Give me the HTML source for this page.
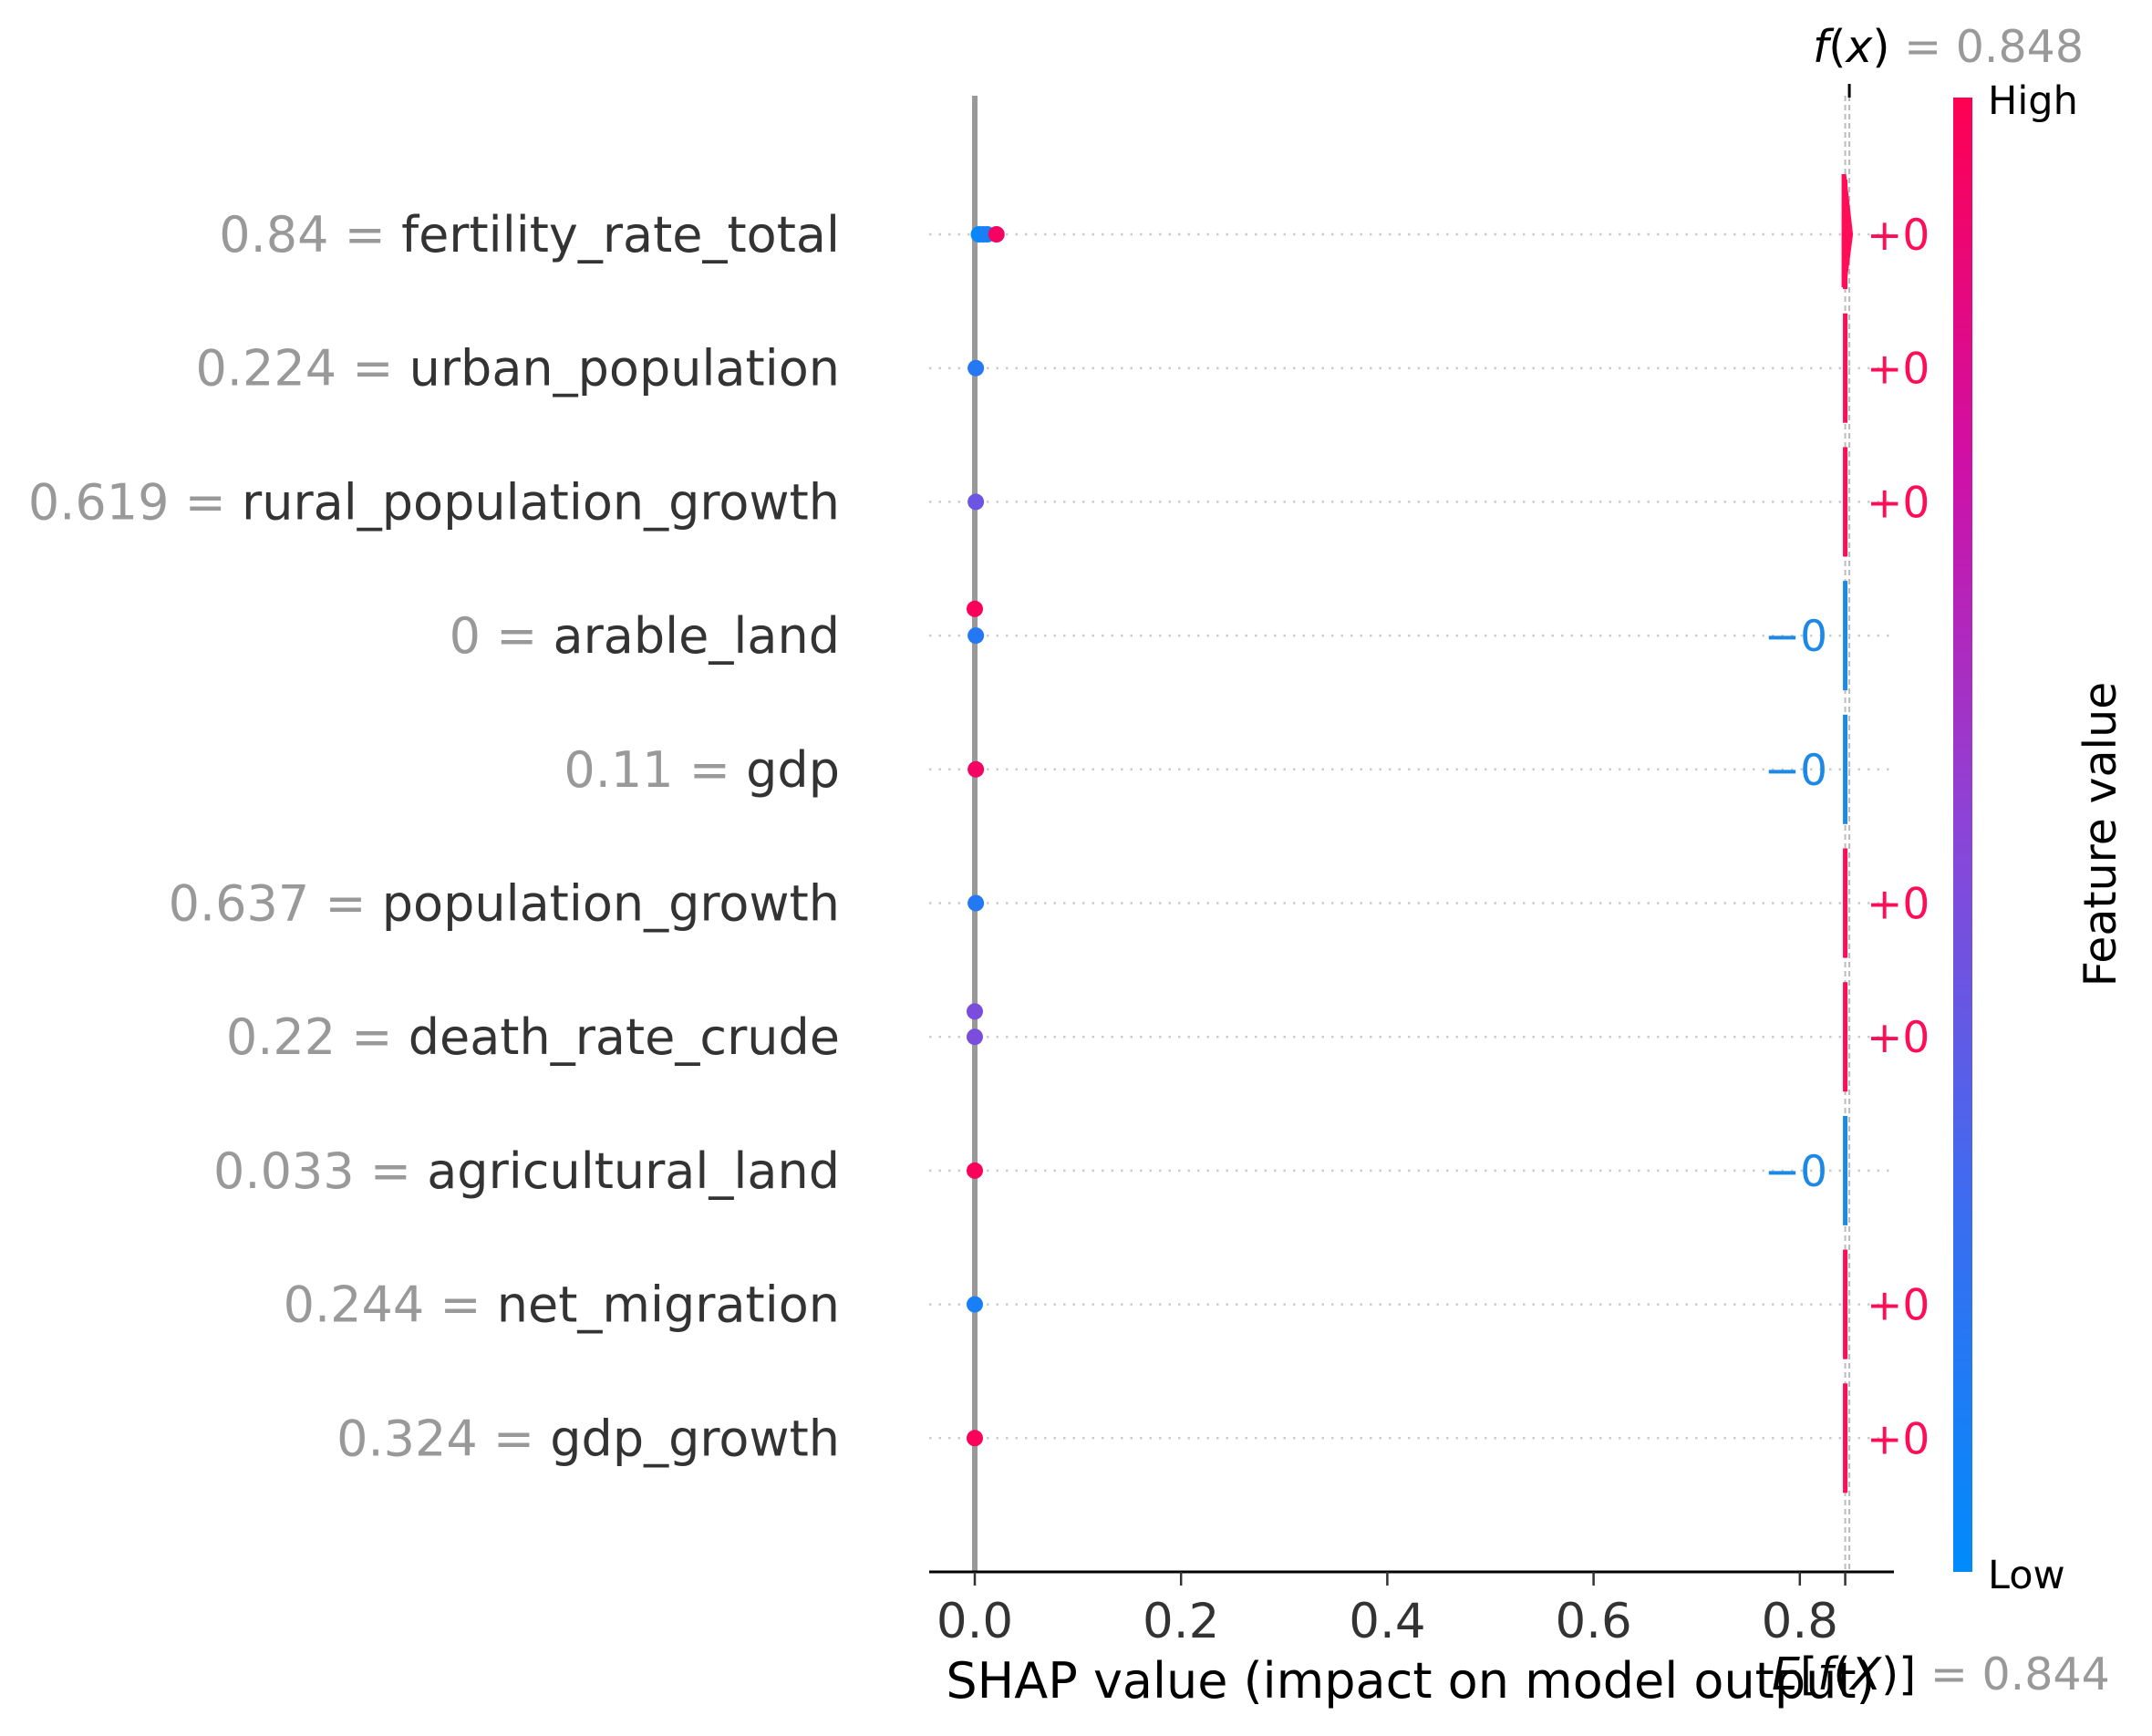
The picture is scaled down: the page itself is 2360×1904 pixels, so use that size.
<!DOCTYPE html>
<html><head><meta charset="utf-8"><style>
html,body{margin:0;padding:0;background:#fff;}
svg{display:block;font-family:"DejaVu Sans","Liberation Sans",sans-serif;}
</style></head><body>
<svg id="chart" width="2360" height="1904" viewBox="0 0 2360 1904" xmlns="http://www.w3.org/2000/svg">
<defs>
<linearGradient id="cmap" x1="0" y1="1" x2="0" y2="0">
<stop offset="0" stop-color="#008bfb"/>
<stop offset="0.25" stop-color="#3d6cf0"/>
<stop offset="0.5" stop-color="#8a45d8"/>
<stop offset="0.75" stop-color="#cf10a6"/>
<stop offset="1" stop-color="#ff0052"/>
</linearGradient>
</defs>
<g id="grid"></g>
<g id="ylabels"></g>
<line x1="1069" y1="105" x2="1069" y2="1724" stroke="#999" stroke-width="6"/>
<g id="dots"></g>
<g id="bars"></g>
<g id="xaxis"></g>
<text x="1547" y="1862" font-size="54" text-anchor="middle" fill="#000">SHAP value (impact on model output)</text>
<rect x="2142" y="107" width="21" height="1617" fill="url(#cmap)"/>
<text x="2180" y="125" font-size="43" fill="#000">High</text>
<text x="2180" y="1742" font-size="43" fill="#000">Low</text>
<text transform="translate(2320,915) rotate(-90)" font-size="49" text-anchor="middle" fill="#000">Feature value</text>
</svg>
<script>
const features = ["fertility_rate_total","urban_population","rural_population_growth","arable_land","gdp","population_growth","death_rate_crude","agricultural_land","net_migration","gdp_growth"];
const featureValues = ["0.84","0.224","0.619","0","0.11","0.637","0.22","0.033","0.244","0.324"];
const contribSigns = ["+0","+0","+0","−0","−0","+0","+0","−0","+0","+0"];
// dot data: row index, shap value, color value (0 low..1 high), vertical jitter offset in row units
const dotRow = [0,0,0,0,1,2,3,3,4,5,6,6,7,8,9];
const dotShap = [0.004,0.008,0.012,0.021,0.001,0.001,0.0,0.001,0.001,0.001,0.0,0.0,0.0,0.0,0.0];
const dotColor = [0.02,0.05,0.1,0.95,0.15,0.4,0.98,0.15,0.95,0.15,0.45,0.45,0.98,0.1,0.98];
const dotJitter = [0,0,0,0,0,0,-0.2,0,0,0,-0.19,0,0,0,0];
const baseValue = 0.844;
const fxValue = 0.848;
const xTicks = [0.0,0.2,0.4,0.6,0.8];
const xTickLabels = ["0.0","0.2","0.4","0.6","0.8"];

const NS = "http://www.w3.org/2000/svg";
const x = v => 1069 + v * 1131;
const y = i => 257 + i * 146.7;
function mk(tag, attrs, parent){const e=document.createElementNS(NS,tag);for(const k in attrs)e.setAttribute(k,attrs[k]);parent.appendChild(e);return e;}
function cmap(t){
  const stops=[[0,[0,139,251]],[0.25,[61,108,240]],[0.5,[138,69,216]],[0.75,[207,16,166]],[1,[255,0,82]]];
  for(let i=0;i<stops.length-1;i++){const [a,ca]=stops[i],[b,cb]=stops[i+1];if(t<=b){const f=(t-a)/(b-a);return "rgb("+ca.map((c,j)=>Math.round(c+(cb[j]-c)*f)).join(",")+")";}}
  return "rgb(255,0,82)";
}
const grid=document.getElementById('grid'),yl=document.getElementById('ylabels'),dots=document.getElementById('dots'),bars=document.getElementById('bars'),xa=document.getElementById('xaxis');
// dashed lines for base and f(x)
[baseValue,fxValue].forEach((v,k)=>{
  const l=mk('line',{x1:x(v),x2:x(v),y1:105,y2:1724,stroke:'#bbb','stroke-width':2,'stroke-dasharray':'6,4'},grid);
  
  
});
features.forEach((f,i)=>{
  const g=mk('line',{x1:1019,x2:2074,y1:y(i),y2:y(i),stroke:'#ccc','stroke-width':2.5,'stroke-dasharray':'2.5,8'},grid);
  
  
  const t=mk('text',{x:921,y:y(i)+19,'font-size':54,'text-anchor':'end',fill:'#333'},yl);
  
  
  const s1=mk('tspan',{fill:'#999'},t);s1.textContent=featureValues[i]+" = ";
  const s2=mk('tspan',{},t);s2.textContent=f;
  const pos=contribSigns[i][0]==='+';
  const col=pos?'#ff0d57':'#1e88e5';
  const b=mk('rect',{x:x(baseValue)-2.5,y:y(i)-60,width:5,height:120,fill:col},bars);
  
  
  const lt=mk('text',{x:pos?2047:2004,y:y(i)+17,'font-size':47,'text-anchor':pos?'start':'end',fill:col},bars);
  
  
  lt.textContent=contribSigns[i];
});
// first row arrow wedge
const w=mk('polygon',{points:`${x(baseValue)-4},${y(0)-66} ${x(baseValue)+1},${y(0)-66} ${x(fxValue)+4},${y(0)} ${x(baseValue)+1},${y(0)+58} ${x(baseValue)-4},${y(0)+58}`,fill:'#ff0d57'},bars);


dotRow.forEach((r,k)=>{
  const c=mk('circle',{cx:x(dotShap[k]),cy:y(r)+dotJitter[k]*146.7,r:9,fill:cmap(dotColor[k])},dots);
  
  
});
const ft=mk('line',{x1:x(fxValue),x2:x(fxValue),y1:92,y2:107,stroke:'#000','stroke-width':3},xa);


const fx=mk('text',{x:1988,y:68,'font-size':49,fill:'#000'},xa);


const a1=mk('tspan',{'font-style':'italic'},fx);a1.textContent='f';
const a2=mk('tspan',{},fx);a2.textContent='(';
const a3=mk('tspan',{'font-style':'italic'},fx);a3.textContent='x';
const a4=mk('tspan',{},fx);a4.textContent=')';
const a5=mk('tspan',{fill:'#999'},fx);a5.textContent=' = '+fxValue.toFixed(3);
const ex=mk('text',{x:1943,y:1853,'font-size':49,fill:'#000'},xa);


const b1=mk('tspan',{'font-style':'italic'},ex);b1.textContent='E';
const b2=mk('tspan',{},ex);b2.textContent='[';
const b3=mk('tspan',{'font-style':'italic'},ex);b3.textContent='f';
const b4=mk('tspan',{},ex);b4.textContent='(';
const b5=mk('tspan',{'font-style':'italic'},ex);b5.textContent='X';
const b6=mk('tspan',{},ex);b6.textContent=')]';
const b7=mk('tspan',{fill:'#999'},ex);b7.textContent=' = '+baseValue.toFixed(3);
const ax=mk('line',{x1:1019,x2:2077,y1:1724,y2:1724,stroke:'#000','stroke-width':3},xa);


xTicks.forEach((v,i)=>{
  const t=mk('line',{x1:x(v),x2:x(v),y1:1724,y2:1739,stroke:'#333','stroke-width':2.5},xa);
  
  
  const l=mk('text',{x:x(v),y:1796,'font-size':53,'text-anchor':'middle',fill:'#333'},xa);
  
  
  l.textContent=xTickLabels[i];
});
const et=mk('line',{x1:x(baseValue),x2:x(baseValue),y1:1724,y2:1739,stroke:'#333','stroke-width':2.5},xa);


</script>
</body></html>
